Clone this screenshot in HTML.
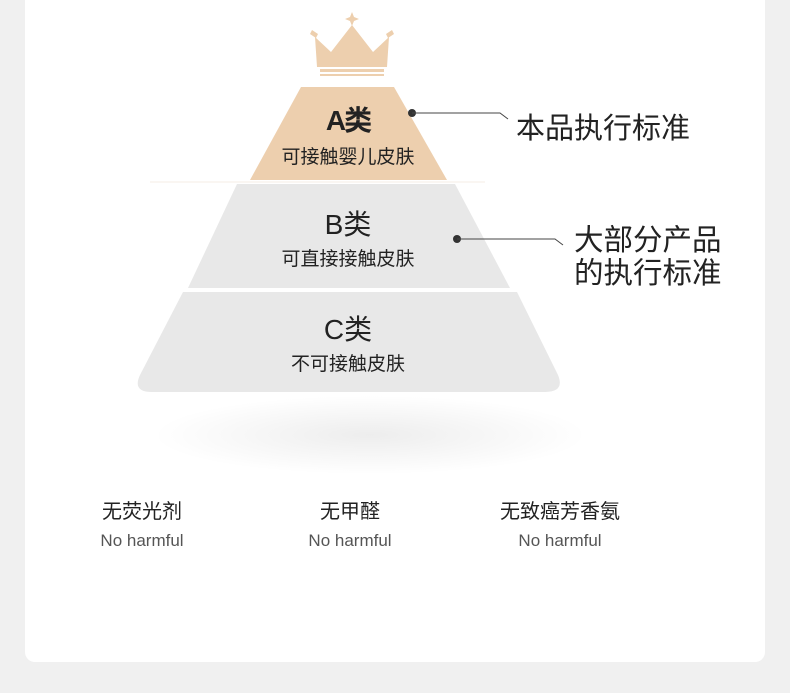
<!DOCTYPE html><html><head><meta charset="utf-8"><style>
body{margin:0;width:790px;height:693px;background:#f0f0f0;position:relative;overflow:hidden;font-family:"Liberation Sans","Noto Sans CJK SC",sans-serif;}
.card{position:absolute;left:25px;top:-20px;width:740px;height:682px;background:#fff;border-radius:10px;}
.t{position:absolute;white-space:nowrap;color:#222;}
.c{text-align:center;width:200px;}
</style></head><body>
<div class="card"></div>
<div style="position:absolute;left:150px;top:395px;width:440px;height:80px;border-radius:50%;background:radial-gradient(ellipse at center,rgba(0,0,0,0.07),rgba(0,0,0,0) 70%);"></div>
<svg style="position:absolute;left:0;top:0" width="790" height="693">
<g fill="#edcfae">
<polygon points="352,12 354,17 359,19 354,21 352,26 350,21 345,19 350,17"/>
<polygon points="315,37 331,52 352,25 373,52 389,37 387,67 317,67"/>
<rect x="320" y="69" width="64" height="3"/><rect x="320" y="74" width="64" height="2"/>
<polygon points="312,30 318,34 316,38 310,34"/><polygon points="392,30 386,34 388,38 394,34"/>
<polygon points="301,87 394,87 447,180 250,180"/>
</g>
<line x1="150" y1="182" x2="485" y2="182" stroke="#f6eee4" stroke-width="1"/>
<polygon points="237,184 455,184 510,288 188,288" fill="#e8e8e8"/>
<path d="M183,292 L517,292 L558,375 Q565,392 545,392 L152,392 Q132,392 140,375 Z" fill="#e8e8e8"/>
<circle cx="412" cy="113" r="4" fill="#333"/>
<polyline points="412,113 500,113 508,119" fill="none" stroke="#444" stroke-width="1"/>
<circle cx="457" cy="239" r="4" fill="#333"/>
<polyline points="457,239 555,239 563,245" fill="none" stroke="#444" stroke-width="1"/>
</svg>
<div class="t c" style="left:248px;top:99px;font-size:28px;font-weight:bold;letter-spacing:-2px">A类</div>
<div class="t c" style="left:248px;top:142px;font-size:19px;">可接触婴儿皮肤</div>
<div class="t c" style="left:248px;top:203px;font-size:28px;">B类</div>
<div class="t c" style="left:248px;top:244px;font-size:19px;">可直接接触皮肤</div>
<div class="t c" style="left:248px;top:308px;font-size:28px;">C类</div>
<div class="t c" style="left:248px;top:349px;font-size:19px;">不可接触皮肤</div>
<div class="t" style="left:516px;top:105px;font-size:29px;">本品执行标准</div>
<div class="t" style="left:574px;top:224px;font-size:29.5px;line-height:33px;">大部分产品<br>的执行标准</div>
<div class="t c" style="left:42px;top:495px;font-size:20px;">无荧光剂</div>
<div class="t c" style="left:42px;top:531px;font-size:17px;color:#555;">No harmful</div>
<div class="t c" style="left:250px;top:495px;font-size:20px;">无甲醛</div>
<div class="t c" style="left:250px;top:531px;font-size:17px;color:#555;">No harmful</div>
<div class="t c" style="left:460px;top:495px;font-size:20px;">无致癌芳香氨</div>
<div class="t c" style="left:460px;top:531px;font-size:17px;color:#555;">No harmful</div>
</body></html>
